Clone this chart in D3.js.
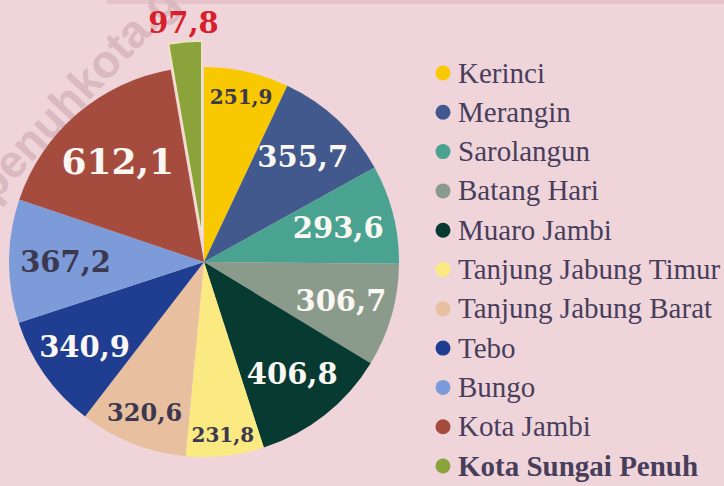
<!DOCTYPE html>
<html>
<head>
<meta charset="utf-8">
<script src="https://cdn.jsdelivr.net/npm/d3@7"></script>
<style>
  body { margin: 0; background: #efd5da; }
  svg { display: block; }
</style>
</head>
<body>
<svg id="chart" width="724" height="486"></svg>
<script>
// kabupaten / kota, clockwise from the top
var names = ["Kerinci", "Merangin", "Sarolangun", "Batang Hari", "Muaro Jambi",
  "Tanjung Jabung Timur", "Tanjung Jabung Barat", "Tebo", "Bungo", "Kota Jambi",
  "Kota Sungai Penuh"]
var values = [251.9, 355.7, 293.6, 306.7, 406.8, 231.8, 320.6, 340.9, 367.2, 612.1, 97.8]
var valueLabels = ["251,9", "355,7", "293,6", "306,7", "406,8", "231,8", "320,6",
  "340,9", "367,2", "612,1", "97,8"]
var colors = ["#f8c800", "#41598d", "#4aa390", "#8a9a8b", "#073a30", "#fbe982",
  "#e8c0a0", "#1f3e92", "#7c9bd8", "#a54c3f", "#8aa43b"]

var svg = d3.select("#chart")
var W = 724, H = 486
var cx = 204, cy = 262, R = 195

svg.append("rect").attr("width", W).attr("height", H).attr("fill", "#efd5da")
svg.append("rect").attr("x", 107).attr("y", 0).attr("width", W - 107).attr("height", 4)
  .attr("fill", "#e6c3cb")

// watermark (runs off the top-left corner)
svg.append("text")
  .attr("transform", "translate(-6,203) rotate(-47)")
  .style("font-family", "'Liberation Sans', Arial, sans-serif")
  .style("font-weight", "bold")
  .style("font-size", "46px")
  .attr("fill", "#dab9c0")
  .text("penuhkota.go.id")

var data = names.map(function(n, i) { return {name: n, value: values[i], label: valueLabels[i], color: colors[i]} })

var pie = d3.pie().sort(null).value(function(d) { return d.value })
var arcs = pie(data)
var arc = d3.arc().innerRadius(0).outerRadius(R)

// the last slice (Kota Sungai Penuh) is pulled out
var explode = function(d) { return d.data.name == "Kota Sungai Penuh" ? 26 : 0 }
var shift = function(d) {
  var a = (d.startAngle + d.endAngle) / 2
  var e = explode(d)
  return [Math.sin(a) * e, -Math.cos(a) * e]
}

var g = svg.append("g").attr("transform", "translate(" + cx + "," + cy + ")")

g.selectAll("path.slice")
  .data(arcs)
  .join("path")
  .classed("slice", true)
  .attr("d", arc)
  .attr("fill", function(d) { return d.data.color })
  .attr("stroke", function(d) { return explode(d) ? "#f2e4c4" : "none" })
  .attr("stroke-width", 1.5)
  .attr("transform", function(d) { var s = shift(d); return "translate(" + s[0] + "," + s[1] + ")" })

// label look per slice: radius factor, size, colour
var dark = "#3b3850", light = "#fbf7f2"
var labelLook = {
  "Kerinci": [0.87, 20, dark],
  "Merangin": [0.74, 29, light],
  "Sarolangun": [0.71, 29, light],
  "Batang Hari": [0.73, 29, light],
  "Muaro Jambi": [0.73, 29, light],
  "Tanjung Jabung Timur": [0.89, 20, dark],
  "Tanjung Jabung Barat": [0.83, 24, dark],
  "Tebo": [0.75, 29, light],
  "Bungo": [0.71, 29, dark],
  "Kota Jambi": [0.68, 36, light],
  "Kota Sungai Penuh": [1.23, 29, "#d8202c"]
}

g.selectAll("text.val")
  .data(arcs)
  .join("text")
  .classed("val", true)
  .attr("transform", function(d) {
    var k = labelLook[d.data.name][0]
    var c = d3.arc().innerRadius(R * k).outerRadius(R * k).centroid(d)
    return "translate(" + c[0] + "," + c[1] + ")"
  })
  .attr("text-anchor", "middle")
  .attr("dy", "0.36em")
  .style("font-family", "'DejaVu Serif', serif")
  .style("font-weight", "bold")
  .style("font-size", function(d) { return labelLook[d.data.name][1] + "px" })
  .attr("fill", function(d) { return labelLook[d.data.name][2] })
  .text(function(d) { return d.data.label })

// legend
var legend = svg.append("g").attr("transform", "translate(443,73)")
var items = legend.selectAll("g.item")
  .data(data)
  .join("g")
  .classed("item", true)
  .attr("transform", function(d, i) { return "translate(0," + (i * 39.3) + ")" })

items.append("circle")
  .attr("r", 7.5)
  .attr("fill", function(d) { return d.color })

items.append("text")
  .attr("x", 15)
  .attr("dy", "0.33em")
  .style("font-family", "'Liberation Serif', 'Times New Roman', serif")
  .style("font-size", "29px")
  .style("font-weight", function(d) { return d.name == "Kota Sungai Penuh" ? "bold" : "normal" })
  .attr("fill", "#483e5c")
  .text(function(d) { return d.name })
</script>
</body>
</html>
